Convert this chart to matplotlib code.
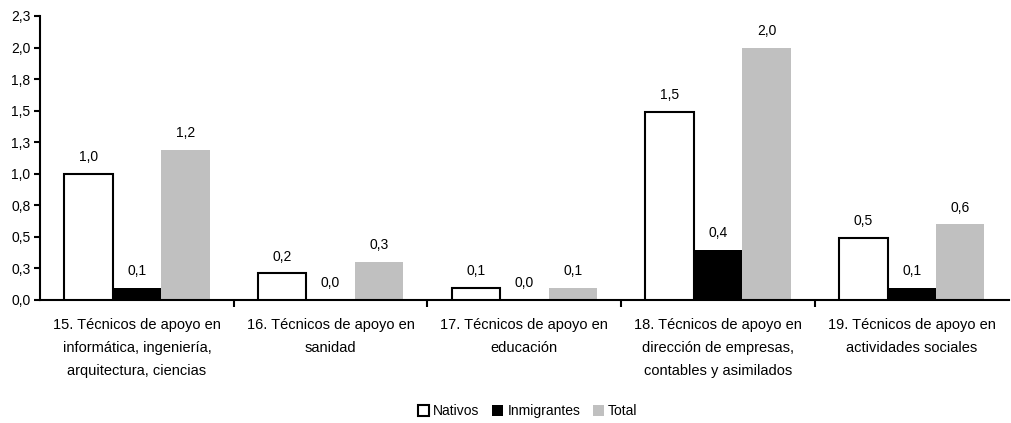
"""Grouped bar chart: Nativos / Inmigrantes / Total by occupation group."""

import matplotlib.pyplot as plt
import matplotlib as mpl
import numpy as np

CATEGORIES = [
    "15. Técnicos de apoyo en\ninformática, ingeniería,\narquitectura, ciencias",
    "16. Técnicos de apoyo en\nsanidad",
    "17. Técnicos de apoyo en\neducación",
    "18. Técnicos de apoyo en\ndirección de empresas,\ncontables y asimilados",
    "19. Técnicos de apoyo en\nactividades sociales",
]
NATIVOS = [1.0, 0.21, 0.095, 1.49, 0.49]
INMIGRANTES = [0.095, 0.0, 0.0, 0.40, 0.095]
TOTAL = [1.19, 0.30, 0.095, 2.0, 0.60]

Y_TICKS = [0, 0.25, 0.5, 0.75, 1.0, 1.25, 1.5, 1.75, 2.0, 2.25]
Y_TICK_LABELS = ["0,0", "0,3", "0,5", "0,8", "1,0", "1,3", "1,5", "1,8", "2,0", "2,3"]

COLOR_TOTAL = "#C0C0C0"


def fmt(v):
    return f"{v:.1f}".replace(".", ",")


def main() -> None:
    mpl.rcParams.update(
        {
            "font.family": ["Liberation Sans", "DejaVu Sans"],
            "font.size": 10,
            "axes.edgecolor": "black",
            "axes.linewidth": 1.5,
        }
    )

    fig = plt.figure(figsize=(10.11, 4.23), dpi=100)
    ax = fig.add_axes([0.0396, 0.2908, 0.958, 0.6714])

    x = np.arange(len(CATEGORIES))
    w = 0.25
    b1 = ax.bar(x - w, NATIVOS, w, color="white", edgecolor="black",
                linewidth=1.5, label="Nativos", zorder=3)
    b2 = ax.bar(x, INMIGRANTES, w, color="black", edgecolor="black",
                linewidth=0, label="Inmigrantes", zorder=2)
    b3 = ax.bar(x + w, TOTAL, w, color=COLOR_TOTAL, linewidth=0,
                label="Total", zorder=2)

    for bars, vals in ((b1, NATIVOS), (b2, INMIGRANTES), (b3, TOTAL)):
        for rect, v in zip(bars, vals):
            ax.annotate(fmt(v), (rect.get_x() + rect.get_width() / 2, v),
                        xytext=(0, 7), textcoords="offset points",
                        ha="center", va="bottom", fontsize=10)

    ax.set_xlim(-0.5, len(CATEGORIES) - 0.5)
    ax.set_ylim(0, 2.25)
    ax.set_yticks(Y_TICKS)
    ax.set_yticklabels(Y_TICK_LABELS, fontsize=10)
    ax.tick_params(axis="y", direction="out", length=4, width=1.5, pad=3)

    ax.set_xticks(x)
    ax.set_xticklabels(CATEGORIES, fontsize=10.5, linespacing=1.8)
    ax.tick_params(axis="x", which="major", length=0, pad=13)
    ax.set_xticks(np.arange(0.5, len(CATEGORIES) - 0.5, 1), minor=True)
    ax.tick_params(axis="x", which="minor", direction="out", length=5, width=1.5)

    for side in ("top", "right"):
        ax.spines[side].set_visible(False)

    fig.legend(
        handles=[b1, b2, b3],
        loc="lower center",
        bbox_to_anchor=(0.522, -0.018),
        ncol=3,
        frameon=False,
        fontsize=10,
        handlelength=0.8,
        handleheight=0.8,
        handletextpad=0.3,
        columnspacing=0.9,
    )

    fig.savefig("out.png", dpi=100)
    plt.close(fig)


if __name__ == "__main__":
    main()
